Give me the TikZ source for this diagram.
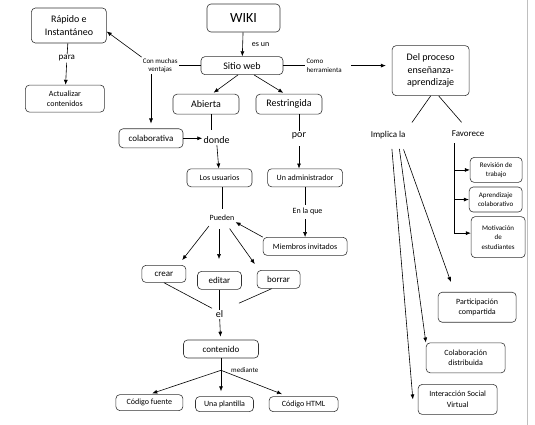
\documentclass[tikz,border=0pt]{standalone}
\usepackage{fontspec}
\setmainfont{Carlito}
\usetikzlibrary{arrows.meta,positioning,calc}

\begin{document}
\begin{tikzpicture}[
    x=1pt, y=1pt,
    ftxl/.style={font=\fontsize{14}{16}\selectfont},
    ftl/.style={font=\fontsize{10}{12.5}\selectfont},
    ftm/.style={font=\fontsize{9}{11}\selectfont},
    fts/.style={font=\fontsize{8}{10.5}\selectfont},
    ftt/.style={font=\fontsize{7}{8.5}\selectfont},
    conbox/.style={draw=black!80, line width=0.6pt, rounded corners=4pt,
                   align=center, inner sep=1pt},
    lbl/.style={inner sep=1pt, align=center},
    arr/.style={-{Latex[length=5pt,width=4pt]}, line width=0.6pt},
    ln/.style={line width=0.6pt}
  ]
  \useasboundingbox (0,0) rectangle (535,-425);
  \draw[black!25] (527,0) -- (527,-425);

  % Top: WIKI and the web site
  \node[conbox, ftxl, minimum width=73pt, minimum height=28pt] (wiki) at (243.5,-18) {WIKI};
  \node[conbox, ftl, minimum width=82pt, minimum height=18pt, below=24pt of wiki, xshift=-1.5pt] (sitio) {Sitio web};
  \node[conbox, ftl, minimum width=66pt, minimum height=20pt, below=19pt of sitio, xshift=-36pt] (abierta) {Abierta};
  \node[conbox, ftl, minimum width=66pt, minimum height=20pt, below=19pt of sitio, xshift=47pt] (restr) {Restringida};

  % Left: ventajas
  \node[lbl, ftt, left=22pt of sitio] (ventajas) {Con muchas\\ventajas};
  \node[conbox, ftl, minimum width=75pt, minimum height=35pt, left=100pt of wiki, yshift=-7.5pt] (rapido) {Rápido e\\Instantáneo};
  \node[lbl, ftm, below=11pt of rapido, xshift=-2pt] (para) {para};
  \node[conbox, fts, minimum width=79pt, minimum height=27pt, below=41.5pt of rapido, xshift=-4pt] (actual) {Actualizar\\contenidos};
  \node[conbox, ftm, minimum width=64pt, minimum height=19pt, below=14pt of abierta, xshift=-55pt] (colab) {colaborativa};

  % Middle: users and members
  \node[lbl, ftl, right=19pt of colab, yshift=-2pt] (donde) {donde};
  \node[conbox, fts, minimum width=65pt, minimum height=18pt, below=54pt of abierta, xshift=13.5pt] (usuarios) {Los usuarios};
  \node[lbl, ftl, below=17pt of restr, xshift=10pt] (por) {por};
  \node[conbox, fts, minimum width=75pt, minimum height=18pt, right=15pt of usuarios] (admin) {Un administrador};
  \node[lbl, fts, below=20pt of admin, xshift=2.5pt] (enlaque) {En la que};
  \node[conbox, fts, minimum width=84pt, minimum height=18pt, below=50pt of admin] (miembros) {Miembros invitados};
  \node[lbl, fts, below=27pt of usuarios, xshift=2.5pt] (pueden) {Pueden};

  \node[conbox, ftm, minimum width=44pt, minimum height=18pt, below=84pt of usuarios] (editar) {editar};
  \node[conbox, ftm, minimum width=44pt, minimum height=17pt, left=11pt of editar, yshift=6.5pt] (crear) {crear};
  \node[conbox, ftm, minimum width=43pt, minimum height=18pt, right=15pt of editar, yshift=1pt] (borrar) {borrar};
  \node[lbl, ftl, below=20pt of editar] (el) {el};
  \node[conbox, ftm, minimum width=75pt, minimum height=18pt, below=50pt of editar, xshift=1.5pt] (contenido) {contenido};
  \coordinate[below=12pt of contenido] (split);
  \node[lbl, ftt, right=9pt of split] (mediante) {mediante};

  % Bottom: ways to edit
  \node[conbox, fts, minimum width=58pt, minimum height=15pt, below=38pt of contenido, xshift=3.5pt] (plantilla) {Una plantilla};
  \node[conbox, fts, minimum width=67pt, minimum height=16pt, left=12pt of plantilla, yshift=1.5pt] (cfuente) {Código fuente};
  \node[conbox, fts, minimum width=69pt, minimum height=15pt, right=15pt of plantilla] (chtml) {Código HTML};

  % Right: teaching and learning
  \node[lbl, ftt, align=left, right=22pt of sitio] (herram) {Como\\herramienta};
  \node[conbox, ftl, minimum width=77pt, minimum height=50pt, right=49pt of herram, yshift=-5pt] (proceso) {Del proceso\\enseñanza-\\aprendizaje};
  \node[lbl, ftm, below=34pt of proceso, xshift=-42.5pt] (implica) {Implica la};
  \node[lbl, ftm, below=34pt of proceso, xshift=37.5pt] (favorece) {Favorece};
  \coordinate[below=95pt of favorece, xshift=-14pt] (fv);

  \node[conbox, ftt, minimum width=52pt, minimum height=25pt, below=19pt of favorece, xshift=28pt] (revision) {Revisión de\\trabajo};
  \node[conbox, ftt, minimum width=53pt, minimum height=25pt, below=4pt of revision, xshift=-0.5pt] (aprend) {Aprendizaje\\colaborativo};
  \node[conbox, ftt, font=\fontsize{7}{9.5}\selectfont, minimum width=54pt, minimum height=41pt, below=4pt of aprend, xshift=2.5pt] (motiv) {Motivación\\de\\estudiantes};
  \node[conbox, fts, minimum width=78pt, minimum height=30pt, below=34pt of motiv, xshift=-21pt] (partic) {Participación\\compartida};
  \node[conbox, fts, minimum width=79pt, minimum height=30pt, below=20pt of partic, xshift=-11.5pt] (colabd) {Colaboración\\distribuida};
  \node[conbox, fts, minimum width=79pt, minimum height=30pt, below=11pt of colabd, xshift=-8pt] (interac) {Interacción Social\\Virtual};

  % Connectors, left and middle
  \draw[arr] (wiki) -- (sitio) node[midway, right=8pt, lbl, fts] (esun) {es un};
  \draw[ln] (sitio.west) -- (ventajas.east);
  \draw[arr] (ventajas.north west) -- ([yshift=-6pt]rapido.east);
  \draw[arr, shorten >=5pt] (ventajas.south -| colab.north) -- (colab.north);
  \draw[ln] (rapido) -- (para);
  \draw[arr] (para) -- (actual);
  \draw[arr, shorten >=2pt] ([xshift=-4pt]sitio.south) -- ([xshift=6pt]abierta.north);
  \draw[arr, shorten >=2pt] ([xshift=12pt]sitio.south) -- ([xshift=-4pt]restr.north);
  \draw[arr] (colab.east) -- (colab.east -| donde.west);
  \draw[ln, shorten >=6pt] ([xshift=5pt]abierta.south) -- ([xshift=5pt]abierta.south |- donde.north);
  \draw[arr] (donde) -- (usuarios);
  \draw[ln] (restr.south -| por) -- (por);
  \draw[arr, shorten <=6pt] (por.south) -- (por.south |- admin.north);
  \draw[ln, shorten >=5pt] (usuarios.south -| pueden) -- (pueden.north);
  \draw[ln, shorten >=2pt] (admin.south -| miembros) -- (enlaque.north -| miembros);
  \draw[arr, shorten <=3pt] (enlaque.south -| miembros) -- (miembros.north);
  \draw[arr] (miembros.north west) -- (pueden.south east);
  \draw[arr, shorten <=5pt] ([xshift=-10pt]pueden.south) -- ([xshift=-4pt, yshift=5pt]crear.north east);
  \draw[arr, shorten <=7pt, shorten >=12pt] ([xshift=-3pt]pueden.south) -- ([xshift=-3pt]pueden.south |- editar.north);
  \draw[arr, shorten <=8pt] ([xshift=3pt]pueden.south) -- ([xshift=-2pt, yshift=6pt]borrar.north west);
  \draw[ln, shorten >=3pt] (crear.south) -- (el.north west);
  \draw[ln] (editar) -- (el);
  \draw[ln, shorten >=16pt] ([xshift=-7pt]borrar.south) -- (el.north east);
  \draw[arr, shorten >=3pt] (el) -- (contenido);
  \draw[ln] (contenido) -- (split);
  \draw[arr, shorten >=3pt] (split) -- (cfuente.north);
  \draw[arr, shorten >=5pt] (split) -- (plantilla.north -| split);
  \draw[arr, shorten >=6pt] (split) -- ([xshift=-16pt]chtml.north);

  % Connectors, right
  \draw[ln] (sitio.east) -- (herram.west);
  \draw[arr, shorten <=8pt, shorten >=6pt] (herram.east) -- (herram.east -| proceso.west);
  \draw[ln, shorten >=9pt] (proceso.south) -- (implica.north east);
  \draw[ln, shorten >=10pt] ([xshift=8pt]proceso.south) -- (favorece.north);
  \draw[ln, shorten <=5pt] (favorece.south -| fv) -- (fv);
  \draw[arr] (revision.west -| fv) -- (revision.west);
  \draw[arr] (aprend.west -| fv) -- (aprend.west);
  \draw[arr] (fv) -- (fv -| motiv.west);
  \draw[arr, shorten <=10pt] ([xshift=12pt]implica.south) -- ([xshift=13pt, yshift=10pt]partic.north west);
  \draw[arr, shorten <=9pt] ([xshift=10pt]implica.south) -- (colabd.north west);
  \draw[arr, shorten <=9pt] ([xshift=3pt]implica.south) -- ([xshift=-5pt]interac.west);
\end{tikzpicture}
\end{document}
